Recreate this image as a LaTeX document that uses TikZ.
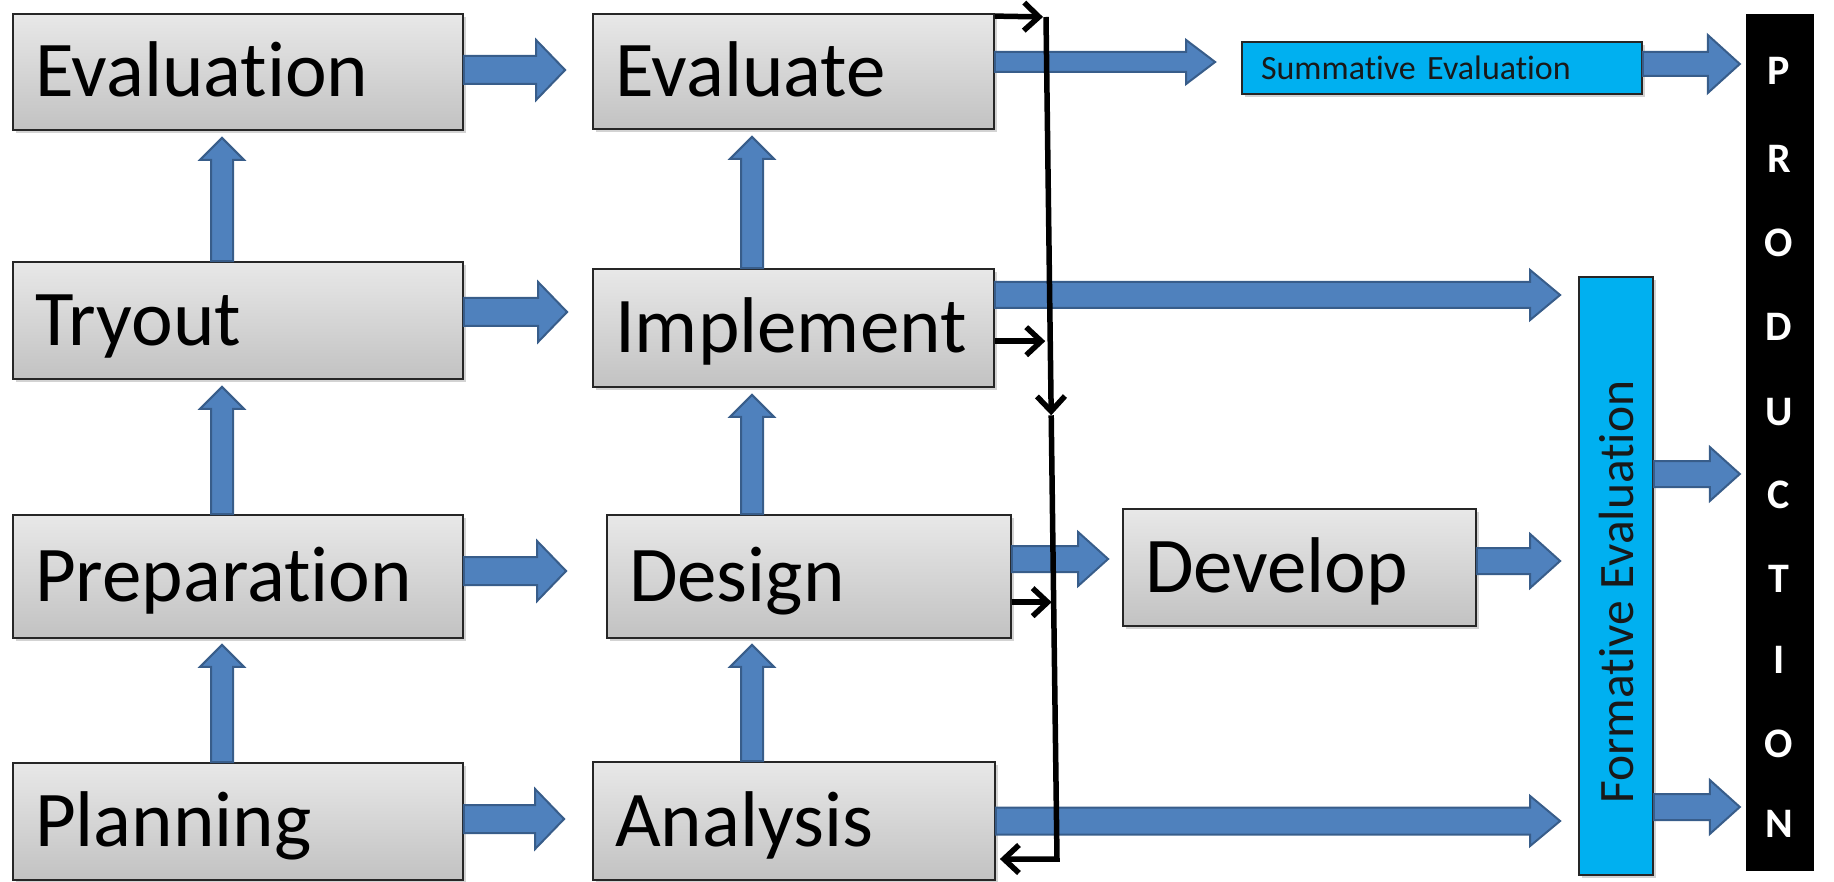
\documentclass[tikz,border=0pt]{standalone}
\usepackage{fontspec}
\setmainfont{Carlito}[Ligatures={NoCommon}]
\usetikzlibrary{calc,shadows,arrows.meta}
\definecolor{abl}{HTML}{4F81BD}
\definecolor{abd}{HTML}{385D8A}
\definecolor{cy}{HTML}{00B0F0}
\definecolor{gtop}{HTML}{E8E8E8}
\definecolor{gbot}{HTML}{C2C2C2}
% horizontal block arrow: #1 start, #2 end node anchor, #3 dy, #4 gap, #5 shaft half, #6 head half, #7 head length
\newcommand\harr[7]{%
  \path[barrow] let \p1=#1, \p2=#2 in
   (\x1,{\y1+(#3)+(#5)}) -- ({\x2-(#4)-(#7)},{\y1+(#3)+(#5)}) -- ({\x2-(#4)-(#7)},{\y1+(#3)+(#6)})
   -- ({\x2-(#4)},{\y1+(#3)}) -- ({\x2-(#4)-(#7)},{\y1+(#3)-(#6)}) -- ({\x2-(#4)-(#7)},{\y1+(#3)-(#5)})
   -- (\x1,{\y1+(#3)-(#5)}) -- cycle;}
% vertical (upward) block arrow
\newcommand\varr[7]{%
  \path[barrow] let \p1=#1, \p2=#2 in
   ({\x1+(#3)-(#5)},\y1) -- ({\x1+(#3)-(#5)},{\y2-(#4)-(#7)}) -- ({\x1+(#3)-(#6)},{\y2-(#4)-(#7)})
   -- ({\x1+(#3)},{\y2-(#4)}) -- ({\x1+(#3)+(#6)},{\y2-(#4)-(#7)}) -- ({\x1+(#3)+(#5)},{\y2-(#4)-(#7)})
   -- ({\x1+(#3)+(#5)},\y1) -- cycle;}
\begin{document}
\begin{tikzpicture}[x=1pt,y=1pt,
  gbox/.style={draw=black!85, line width=1.8pt, top color=gtop, bottom color=gbot,
    drop shadow={shadow xshift=3pt,shadow yshift=-3pt,opacity=0.35},
    font=\fontsize{79}{81}\selectfont, align=left, inner xsep=22pt, inner ysep=0pt,
    text height=50pt, text depth=0pt},
  cbox/.style={draw=black!85, line width=1.8pt, fill=cy,
    drop shadow={shadow xshift=3pt,shadow yshift=-3pt,opacity=0.35}},
  barrow/.style={fill=abl, draw=abd, line width=2pt, line join=miter},
  blk/.style={line width=5.5pt, -{Straight Barb[length=15pt,width=28pt]}},
  pl/.style={text=white, font=\fontsize{42}{44}\selectfont\bfseries, inner sep=0pt}
]
\useasboundingbox (0,0) rectangle (1834,-882);

% left column
\node[gbox, minimum width=450pt, minimum height=116pt, text width=406pt] (eval1) at (238,-72) {Evaluation};
\node[gbox, minimum width=450pt, minimum height=117pt, text width=406pt] (tryout) at (238,-320.5) {Tryout};
\node[gbox, minimum width=450pt, minimum height=123pt, text width=406pt] (prep) at (238,-576.5) {Preparation};
\node[gbox, minimum width=450pt, minimum height=117pt, text width=406pt] (plan) at (238,-821.5) {Planning};
% middle column
\node[gbox, minimum width=401pt, minimum height=115pt, text width=357pt] (evaluate) at (793.5,-71.5) {Evaluate};
\node[gbox, minimum width=401pt, minimum height=118pt, text width=357pt] (implement) at (793.5,-328) {Implement};
\node[gbox, minimum width=404pt, minimum height=123pt, text width=360pt] (design) at (809,-576.5) {Design};
\node[gbox, minimum width=402pt, minimum height=118pt, text width=358pt] (analysis) at (794,-821) {Analysis};
\node[gbox, minimum width=353pt, minimum height=117pt, text width=309pt] (develop) at (1299.5,-567.5) {Develop};
% cyan boxes
\node[cbox, minimum width=400pt, minimum height=52pt, text width=362pt, inner xsep=19pt, align=left,
  font=\fontsize{34}{36}\selectfont, text=black!90] (summ) at (1442,-68) {Summative Evaluation};
\node[cbox, minimum width=74pt, minimum height=598pt] (form) at (1616,-576) {};
\node[rotate=90, font=\fontsize{49.5}{52}\selectfont, text=black!90, inner sep=0pt] (formtxt) at (1616,-592) {Formative Evaluation};
% production bar
\node[fill=black, minimum width=68pt, minimum height=857pt, inner sep=0pt] (prod) at (1780,-442.5) {};
\node[pl] (l1) at (1779,-71) {P};
\node[pl] (l2) at (1779,-159) {R};
\node[pl] (l3) at (1779,-243) {O};
\node[pl] (l4) at (1779,-327) {D};
\node[pl] (l5) at (1779,-412) {U};
\node[pl] (l6) at (1779,-495) {C};
\node[pl] (l7) at (1779,-579) {T};
\node[pl] (l8) at (1779,-660) {I};
\node[pl] (l9) at (1779,-744) {O};
\node[pl] (l10) at (1779,-824) {N};

% horizontal block arrows
\harr{(eval1.east)}{(evaluate.west)}{2}{27}{14}{30}{29}
\harr{(tryout.east)}{(implement.west)}{8.5}{25}{14}{30}{29}
\harr{(prep.east)}{(design.west)}{5.5}{40}{14}{30}{29}
\harr{(plan.east)}{(analysis.west)}{2.5}{28}{14}{30}{29}
\harr{(evaluate.east)}{(summ.west)}{9.5}{26}{10}{22}{29}
\harr{(summ.east)}{(prod.west)}{4}{6}{12}{29}{32}
\harr{(implement.east)}{(form.west)}{33}{18}{13}{25}{30}
\harr{(design.east)}{(develop.west)}{17.5}{14}{13}{27}{30}
\harr{(develop.east)}{(form.west)}{6.5}{18}{13}{27}{30}
\harr{(analysis.east)}{(form.west)}{0}{18}{13.5}{25}{30}
\harr{(form.east)}{(prod.west)}{102}{6}{13}{27}{30}
\harr{(form.east)}{(prod.west)}{-231}{6}{13}{27}{30}

% vertical block arrows
\varr{(tryout.north)}{(eval1.south)}{-16}{7}{11}{22}{22}
\varr{(prep.north)}{(tryout.south)}{-16}{7}{11}{22}{22}
\varr{(plan.north)}{(prep.south)}{-16}{6}{11}{22}{22}
\varr{(implement.north)}{(evaluate.south)}{-41.5}{7}{11}{22}{22}
\varr{(design.north)}{(implement.south)}{-57}{7}{11}{22}{22}
\varr{(analysis.north)}{(design.south)}{-42}{6}{11}{22}{22}

% black feedback lines
\coordinate (vt) at (1046,-17);
\coordinate (vb) at (1057,-859);
\coordinate (vi) at ($(vt)!0.385!(vb)$);
\coordinate (vd) at ($(vt)!0.695!(vb)$);
\coordinate (vm) at ($(vt)!0.473!(vb)$);
\draw[blk, shorten >=3pt] ([yshift=-3pt]evaluate.north east) -- (vt);
\draw[blk, shorten >=5pt] (implement.east |- vi) -- (vi);
\draw[blk, shorten >=2pt] (design.east |- vd) -- (vd);
\draw[blk] (vt) -- (vm);
\draw[blk, shorten >=4pt] (vm) -- (vb) -- (analysis.east |- vb);
\end{tikzpicture}
\end{document}
